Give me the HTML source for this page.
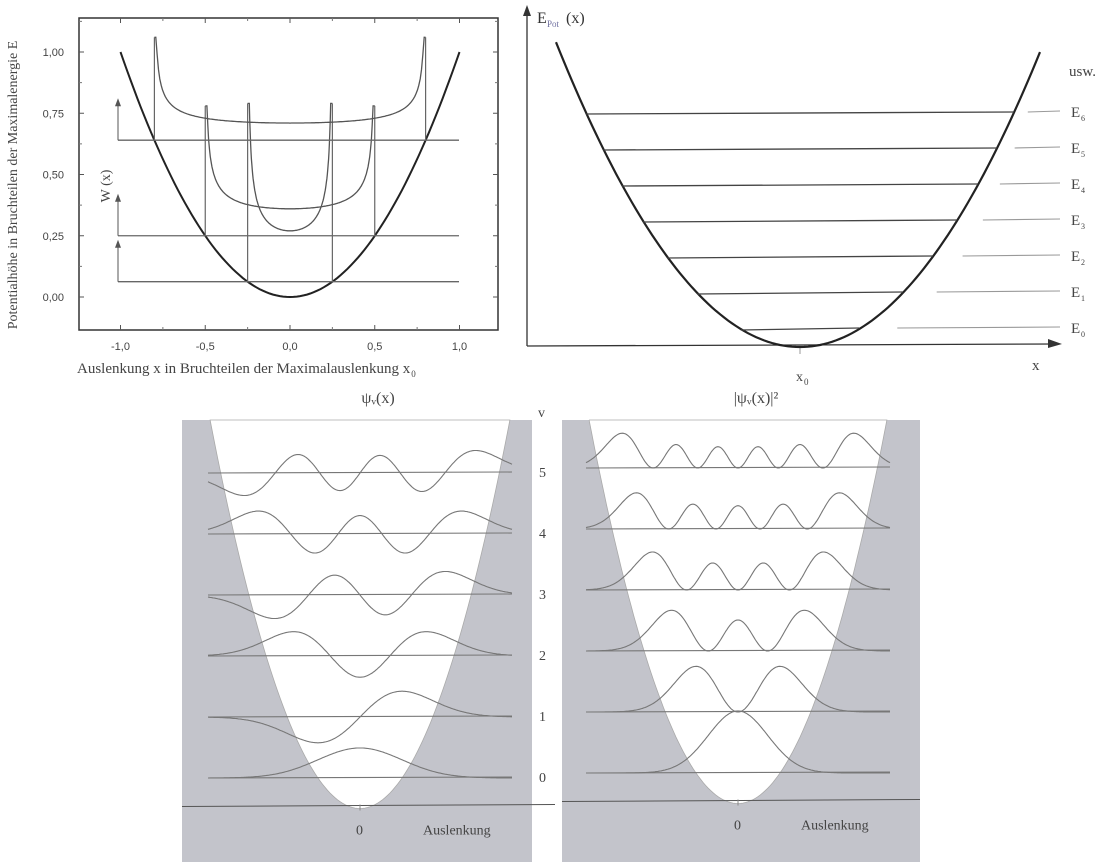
<!DOCTYPE html>
<html><head><meta charset="utf-8"><style>
html,body{margin:0;padding:0;background:#fff}
svg{display:block}
.serif{font-family:"Liberation Serif",serif}
.sans{font-family:"Liberation Sans",sans-serif}
</style></head><body>
<svg id="fig" width="1118" height="865" viewBox="0 0 1118 865">
  <g id="tl"></g>
  <g id="tr"></g>
  <g id="bl"></g>
  <g id="br"></g>
</svg>
<script>
const NS='http://www.w3.org/2000/svg';
function mk(parent,tag,attrs,text){const e=document.createElementNS(NS,tag);for(const k in attrs)e.setAttribute(k,attrs[k]);if(text!==undefined)e.textContent=text;parent.appendChild(e);return e;}

// ---------- top-left data ----------
const xTickLabels=['-1,0','-0,5','0,0','0,5','1,0'];
const xTickValues=[-1,-0.5,0,0.5,1];
const yTickLabels=['0,00','0,25','0,50','0,75','1,00'];
const yTickValues=[0,0.25,0.5,0.75,1];
const amplitudes=[0.25,0.5,0.8];
const wMinimum=[0.27,0.36,0.71];
const wPeak=[0.79,0.78,1.06];

// ---------- top-right data ----------
const energyLabels=['E0','E1','E2','E3','E4','E5','E6'];
const energyLevels=[0.5,1.5,2.5,3.5,4.5,5.5,6.5];

// ---------- bottom data ----------
const quantumNumbers=[0,1,2,3,4,5];

// ===== Top-left chart =====
(function(){
  const g=document.getElementById('tl');
  const X=v=>290+v*169.5, Y=w=>297-w*245;
  const fr=mk(g,'rect',{x:79,y:18,width:419,height:312,fill:'none',stroke:'#333','stroke-width':1.5});
  
  
  xTickValues.forEach((v,i)=>{
    const t=mk(g,'text',{x:X(v),y:350,'text-anchor':'middle','font-size':11,fill:'#444',class:'sans'},xTickLabels[i]);
    
    
    mk(g,'line',{x1:X(v),x2:X(v),y1:330,y2:325,stroke:'#555'});
    mk(g,'line',{x1:X(v),x2:X(v),y1:18,y2:23,stroke:'#555'});
    if(i<4){mk(g,'line',{x1:X(v+0.25),x2:X(v+0.25),y1:330,y2:327,stroke:'#777'});mk(g,'line',{x1:X(v+0.25),x2:X(v+0.25),y1:18,y2:21,stroke:'#777'});}
  });
  yTickValues.forEach((v,i)=>{
    const t=mk(g,'text',{x:64,y:Y(v)+4,'text-anchor':'end','font-size':11,fill:'#444',class:'sans'},yTickLabels[i]);
    
    
    mk(g,'line',{x1:79,x2:84,y1:Y(v),y2:Y(v),stroke:'#555'});
    mk(g,'line',{x1:498,x2:493,y1:Y(v),y2:Y(v),stroke:'#555'});
    mk(g,'line',{x1:79,x2:82,y1:Y(v+0.125),y2:Y(v+0.125),stroke:'#777'});
    mk(g,'line',{x1:498,x2:495,y1:Y(v+0.125),y2:Y(v+0.125),stroke:'#777'});
  });
  const yt=mk(g,'text',{transform:'translate(17,185) rotate(-90)','text-anchor':'middle','font-size':14,fill:'#444',class:'serif'},'Potentialhöhe  in Bruchteilen der Maximalenergie  E');
  
  
  const xt=mk(g,'text',{x:77,y:373,'font-size':15,fill:'#444',class:'serif'},'Auslenkung  x  in Bruchteilen der Maximalauslenkung   x');
  
  
  const xtl=xt.getComputedTextLength?xt.getComputedTextLength():380;
  mk(g,'text',{x:77+xtl+1,y:377,'font-size':9,fill:'#444',class:'serif'},'0');
  const wl=mk(g,'text',{transform:'translate(110,186) rotate(-90)','text-anchor':'middle','font-size':14,fill:'#444',class:'serif'},'W (x)');
  
  
  let d='';for(let i=0;i<=100;i++){const v=-1+i*0.02;d+=(i?'L':'M')+X(v).toFixed(1)+','+Y(v*v).toFixed(1);}
  const p=mk(g,'path',{d:d,fill:'none',stroke:'#222','stroke-width':2});
  
  
  amplitudes.forEach((A,k)=>{
    const yb=Y(A*A), h0=yb-Y(wMinimum[k]), ytop=Y(wPeak[k]);
    const bl=mk(g,'line',{x1:118,x2:459,y1:yb,y2:yb,stroke:'#666','stroke-width':1.3});
    
    
    mk(g,'line',{x1:118,x2:118,y1:yb,y2:yb-38,stroke:'#555'});
    mk(g,'path',{d:`M115,${yb-34} L118,${yb-42} L121,${yb-34}Z`,fill:'#555'});
    let dd='';const N=200;
    for(let i=0;i<=N;i++){const v=-A+2*A*i/N;const r=1-(v/A)*(v/A);let y=r>0?yb-h0/Math.sqrt(r):ytop;if(y<ytop)y=ytop;dd+=(i?'L':'M')+X(v).toFixed(1)+','+y.toFixed(1);}
    const c=mk(g,'path',{d:dd,fill:'none',stroke:'#555','stroke-width':1.3});
    
    
    [-A,A].forEach(v=>mk(g,'line',{x1:X(v),x2:X(v),y1:yb,y2:ytop,stroke:'#666','stroke-width':1.2}));
  });
})();

// ===== Top-right chart =====
(function(){
  const g=document.getElementById('tr');
  const cx=800, vy=347, k=0.00512, unit=36;
  const E=e=>vy-e*unit;
  mk(g,'line',{x1:527,x2:527,y1:346,y2:12,stroke:'#333','stroke-width':1.3});
  mk(g,'path',{d:'M523,16 L527,5 L531,16Z',fill:'#333'});
  mk(g,'line',{x1:527,x2:1055,y1:346,y2:344,stroke:'#333','stroke-width':1.3});
  mk(g,'path',{d:'M1048,339 L1062,344 L1048,348Z',fill:'#333'});
  const yl=mk(g,'text',{x:537,y:23,'font-size':16,fill:'#333',class:'serif'},'E');
  
  
  mk(g,'text',{x:547,y:27,'font-size':9,fill:'#7070a0',class:'serif'},'Pot');
  mk(g,'text',{x:566,y:23,'font-size':16,fill:'#333',class:'serif'},'(x)');
  const xl=mk(g,'text',{x:1032,y:370,'font-size':15,fill:'#444',class:'serif'},'x');
  
  
  mk(g,'line',{x1:cx,x2:cx,y1:347,y2:354,stroke:'#999'});
  mk(g,'text',{x:796,y:381,'font-size':14,fill:'#444',class:'serif'},'x');
  mk(g,'text',{x:804,y:385,'font-size':9,fill:'#444',class:'serif'},'0');
  const u=mk(g,'text',{x:1069,y:76,'font-size':15,fill:'#444',class:'serif'},'usw.');
  
  
  let d='';for(let x=556;x<=1040;x+=4){d+=(x===556?'M':'L')+x+','+(vy-k*(x-cx)*(x-cx)).toFixed(1);}
  const p=mk(g,'path',{d:d,fill:'none',stroke:'#222','stroke-width':2.2});
  
  
  energyLevels.forEach((e,i)=>{
    const y=E(e), hw=Math.sqrt((vy-y)/k);
    const l=mk(g,'line',{x1:cx-hw,x2:cx+hw,y1:y+1,y2:y-1,stroke:'#444','stroke-width':1.3});
    
    
    mk(g,'line',{x1:cx+hw+14+(6-i)*4,x2:1060,y1:y-1,y2:y-2,stroke:'#999','stroke-width':1.1});
    const t=mk(g,'text',{x:1071,y:y+4,'font-size':15,fill:'#444',class:'serif'},energyLabels[i][0]);
    
    
    mk(g,'text',{x:1081,y:y+8,'font-size':8,fill:'#444',class:'serif'},energyLabels[i].slice(1));
  });
})();

// ===== Bottom panels =====
function herm(n,q){let p0=Math.pow(Math.PI,-0.25)*Math.exp(-q*q/2);if(n===0)return p0;let p1=Math.SQRT2*q*p0;for(let m=1;m<n;m++){const p2=Math.sqrt(2/(m+1))*q*p1-Math.sqrt(m/(m+1))*p0;p0=p1;p1=p2;}return p1;}
function panel(id,left,right,cx,y0,squared,title){
  const g=document.getElementById(id);
  const s=42, unit=61, vy=y0+30.5, top=420;
  const L=v=>y0-v*unit;
  const bg=mk(g,'rect',{x:left,y:top,width:right-left,height:862-top,fill:'#c3c4cb'});
  
  
  const qt=Math.sqrt((vy-top)*2/unit);
  let d='M'+(cx-qt*s)+','+top;
  for(let i=0;i<=120;i++){const q=-qt+2*qt*i/120;d+='L'+(cx+q*s).toFixed(1)+','+(vy-unit*q*q/2).toFixed(1);}
  d+='Z';
  const w=mk(g,'path',{d:d,fill:'#fff',stroke:'#aaa','stroke-width':0.8});
  
  
  mk(g,'line',{x1:left,x2:right+(squared?0:23),y1:vy-2,y2:vy-4,stroke:'#555','stroke-width':1});
  mk(g,'line',{x1:cx,x2:cx,y1:vy-4,y2:vy+2,stroke:'#888'});
  mk(g,'text',{x:cx-4,y:vy+26,'font-size':14,fill:'#444',class:'serif'},'0');
  const al=mk(g,'text',{x:cx+63,y:vy+26,'font-size':14,fill:'#444',class:'serif'},'Auslenkung');
  
  
  const tt=mk(g,'text',{x:cx+18,y:403,'text-anchor':'middle','font-size':16,fill:'#444',class:'serif'},title);
  
  
  quantumNumbers.forEach(v=>{
    const y=L(v);
    const ln=mk(g,'line',{x1:cx-152,x2:cx+152,y1:y,y2:y-1,stroke:'#777','stroke-width':1.1});
    
    
    let dd='';
    for(let i=0;i<=300;i++){const q=-3.62+7.24*i/300;const f=herm(v,q);const val=squared?110*f*f:40*f;dd+=(i?'L':'M')+(cx+q*s).toFixed(1)+','+(y-val).toFixed(1);}
    const c=mk(g,'path',{d:dd,fill:'none',stroke:'#777','stroke-width':1.1});
    
    
    if(!squared){
      const t=mk(g,'text',{x:539,y:y+4,'font-size':14,fill:'#444',class:'serif'},String(v));
      
      
    }
  });
  if(!squared){mk(g,'text',{x:538,y:417,'font-size':14,fill:'#444',class:'serif'},'v');}
}
panel('bl',182,532,360,778,false,'ψᵥ(x)');
panel('br',562,920,738,773,true,'|ψᵥ(x)|²');
</script>
</body></html>
